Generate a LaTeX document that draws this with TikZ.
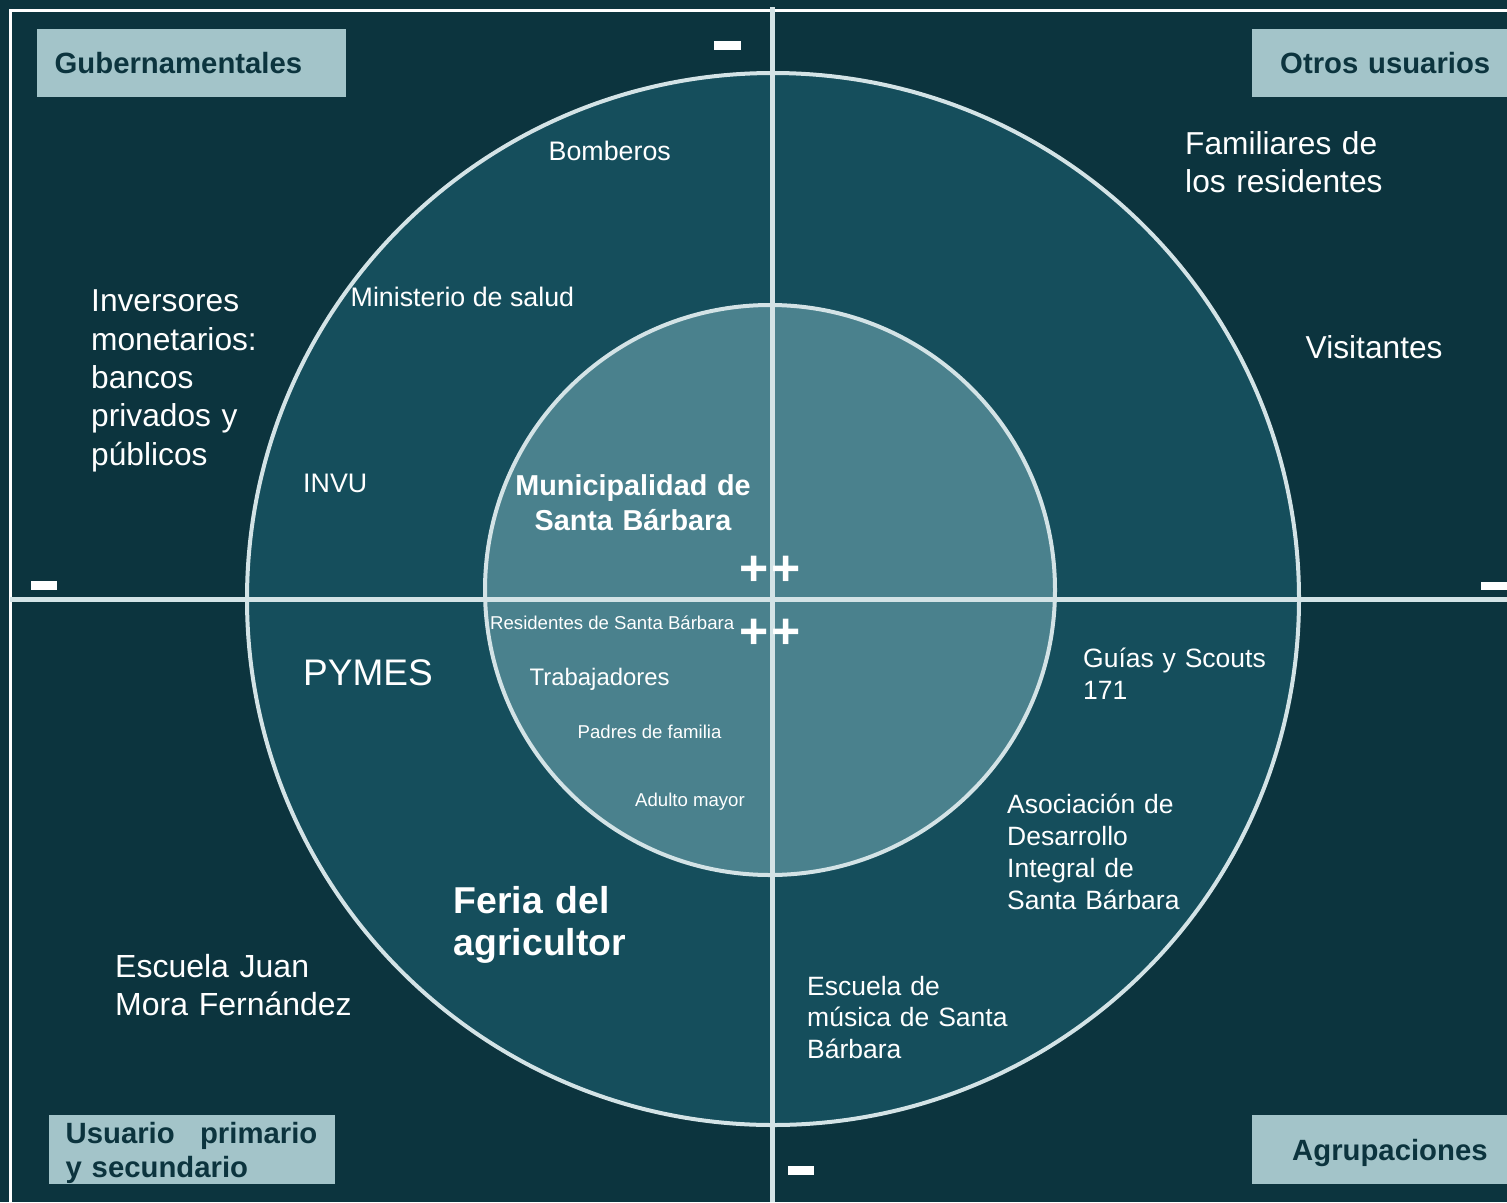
\documentclass[tikz,border=0pt]{standalone}
\usepackage{fontspec}
\setmainfont{Liberation Sans}
\definecolor{bgc}{HTML}{0C343E}
\definecolor{outerc}{HTML}{154E5C}
\definecolor{innerc}{HTML}{4A818D}
\definecolor{boxc}{HTML}{A3C4C9}
\definecolor{boxtxt}{HTML}{0C343E}
\definecolor{ringc}{HTML}{D3E3E6}
\begin{document}
\begin{tikzpicture}[x=1pt,y=-1pt,
  txt/.style={text=white, inner sep=0pt, anchor=base west, align=left},
  mtxt/.style={txt, text width=420pt},
  btxt/.style={text=boxtxt, inner sep=0pt, anchor=base west, align=left, text width=300pt,
     font=\bfseries\fontsize{29.3}{34}\selectfont},
  lblbox/.style={rectangle, fill=boxc, draw=none, inner sep=0pt, anchor=north west},
  ring/.style={circle, draw=ringc, line width=4pt, inner sep=0pt},
  axisline/.style={draw=ringc, line width=5pt},
  fa/.style={font=\fontsize{31.7}{38.4}\selectfont},
  fb/.style={font=\fontsize{26.8}{32}\selectfont},
  fc/.style={font=\fontsize{18.6}{22}\selectfont},
  pluss/.style={text=white, inner sep=0pt, anchor=base west, font=\bfseries\fontsize{50}{50}\selectfont},
  minus/.style={fill=white}]
\useasboundingbox (0,0) rectangle (1507,1202);
\fill[bgc] (0,0) rectangle (1507,1202);
% frame
\draw[white, line width=3pt] (10,1202) -- (10,10) -- (1507,10);
% circles
\node[ring, fill=outerc, minimum size=1052pt] (outer) at (773,599) {};
\node[ring, fill=innerc, minimum size=570pt] (inner) at (770,590) {};
% axes
\coordinate (vtop) at (772,7);
\coordinate (vbot) at (772,1202);
\coordinate (hleft) at (10,599.5);
\coordinate (hright) at (1507,599.5);
\draw[axisline] (vtop) -- (vbot);
\draw[axisline] (hleft) -- (hright);
% minus marks
\fill[minus] (714,41) rectangle (741,49.5);
\fill[minus] (31,581) rectangle (57,590);
\fill[minus] (1481,581.5) rectangle (1507,589.5);
\fill[minus] (788,1166) rectangle (814,1175);
% label boxes
\node[lblbox, minimum width=309pt, minimum height=68pt] (gbox) at (37,29) {};
\node[lblbox, minimum width=255pt, minimum height=68pt] (obox) at (1252,29) {};
\node[lblbox, minimum width=286pt, minimum height=69pt] (ubox) at (49,1115) {};
\node[lblbox, minimum width=255pt, minimum height=69pt] (abox) at (1252,1115) {};
\node[btxt] (gub) at (54.5,73.3) {Gubernamentales};
\node[btxt] (otros) at (1280,73.3) {Otros usuarios};
\node[btxt] (usu) at (65.5,1143.3) {Usuario\ \ \ \kern-4pt primario\\y secundario};
\node[btxt] (agr) at (1292,1160) {Agrupaciones};
% plus marks
\node[pluss] (pp1) at (739,585.8) {+\kern3pt+};
\node[pluss] (pp2) at (739,648.3) {+\kern3pt+};
% texts
\node[txt, fb] (bomb) at (548.5,160) {Bomberos};
\node[txt, fb] (minis) at (350.5,306.7) {Ministerio de salud};
\node[mtxt, fa] (inver) at (91,311.7) {Inversores\\monetarios:\\bancos\\privados y\\públicos};
\node[txt, fb] (invu) at (303,492.7) {INVU};
\node[mtxt, align=center, anchor=base, text width=320pt, font=\bfseries\fontsize{28.8}{34.3}\selectfont] (muni) at (633,495.7) {Municipalidad de\\Santa Bárbara};
\node[mtxt, fa] (fam) at (1185,154) {Familiares de\\los residentes};
\node[txt, font=\fontsize{31.7}{38}\selectfont] (visit) at (1305.5,358) {Visitantes};
\node[txt, fc] (resid) at (490,629) {Residentes de Santa Bárbara};
\node[txt, font=\fontsize{23.9}{28}\selectfont] (trab) at (529.5,685) {Trabajadores};
\node[txt, fc] (padres) at (577.5,738.3) {Padres de familia};
\node[txt, fc] (adulto) at (635,806) {Adulto mayor};
\node[txt, font=\fontsize{37}{44}\selectfont] (pymes) at (303,685) {PYMES};
\node[mtxt, font=\bfseries\fontsize{37.4}{41.7}\selectfont] (feria) at (453.5,913.3) {Feria del\\agricultor};
\node[mtxt, font=\fontsize{32}{38.4}\selectfont] (escj) at (115,977.3) {Escuela Juan\\Mora Fernández};
\node[mtxt, font=\fontsize{26.5}{32}\selectfont] (guias) at (1083,667) {Guías y Scouts\\171};
\node[mtxt, font=\fontsize{26.5}{32}\selectfont] (asoc) at (1007,813.3) {Asociación de\\Desarrollo\\Integral de\\Santa Bárbara};
\node[mtxt, font=\fontsize{26.5}{31.5}\selectfont] (escm) at (807,995) {Escuela de\\música de Santa\\Bárbara};
\end{tikzpicture}
\end{document}
